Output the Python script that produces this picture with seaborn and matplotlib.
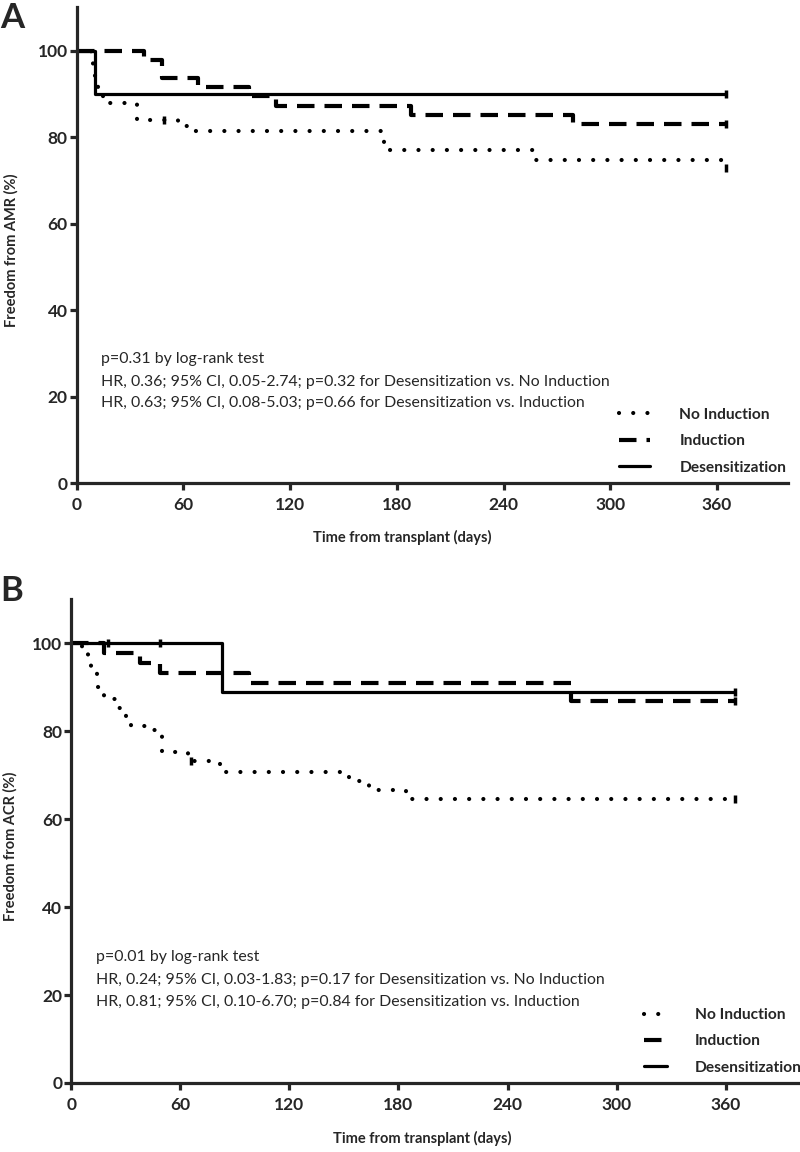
import matplotlib
matplotlib.use("Agg")
import matplotlib.pyplot as plt
import seaborn as sns
import pandas as pd

# Kaplan-Meier step data (days, % event free)
groups = ["No Induction", "Induction", "Desensitization"]

# Panel A - freedom from AMR
amr_no_t = [0, 8, 9, 10, 12, 15, 34, 57, 63, 173, 257, 364, 365]
amr_no_s = [100, 97.7, 95.3, 93.0, 90.7, 87.8, 84.0, 82.6, 81.3, 76.9, 74.7, 72.9, 72.9]
amr_ind_t = [0, 38, 48, 68, 97, 112, 188, 279, 365]
amr_ind_s = [100, 97.9, 93.6, 91.5, 89.4, 87.2, 85.1, 82.9, 82.9]
amr_des_t = [0, 10, 365]
amr_des_s = [100, 90.0, 90.0]

# Panel B - freedom from ACR
acr_no_t = [0, 6, 9, 11, 14, 18, 24, 30, 33, 43, 48, 50, 64, 82, 153, 164, 184, 365]
acr_no_s = [100, 97.8, 95.6, 93.3, 90.0, 87.2, 85.3, 83.1, 81.2, 80.2, 78.9, 75.3, 73.2, 70.7, 68.7, 66.5, 64.5, 64.5]
acr_ind_t = [0, 18, 38, 49, 98, 275, 365]
acr_ind_s = [100, 97.7, 95.5, 93.2, 91.0, 86.8, 86.8]
acr_des_t = [0, 83, 365]
acr_des_s = [100, 88.9, 88.9]

# censored observations (tick marks)
amr_cens_t = [[49, 365], [365], [365]]
amr_cens_s = [[84.0, 72.9], [82.9], [90.0]]
acr_cens_t = [[66, 365], [20, 365], [49, 365]]
acr_cens_s = [[73.2, 64.5], [100, 86.8], [100, 88.9]]

amr_text = ["p=0.31 by log-rank test",
            "HR, 0.36; 95% CI, 0.05-2.74; p=0.32 for Desensitization vs. No Induction",
            "HR, 0.63; 95% CI, 0.08-5.03; p=0.66 for Desensitization vs. Induction"]
acr_text = ["p=0.01 by log-rank test",
            "HR, 0.24; 95% CI, 0.03-1.83; p=0.17 for Desensitization vs. No Induction",
            "HR, 0.81; 95% CI, 0.10-6.70; p=0.84 for Desensitization vs. Induction"]

sns.set_style("ticks")
plt.rcParams['font.family'] = ['Lato', 'DejaVu Sans']

styles = {
    "No Induction": dict(lw=3.0, ls=(0, (0.01, 3.4)), dash_capstyle='round'),
    "Induction": dict(lw=3.0, ls=(0, (4.2, 2.4)), dash_capstyle='butt'),
    "Desensitization": dict(lw=2.3, ls='-'),
}

fig = plt.figure(figsize=(8, 11.52), dpi=100)
axA = fig.add_axes([0.096, 0.5807, 0.889, 0.413])
axB = fig.add_axes([0.089, 0.0599, 0.909, 0.420])


def draw_panel(ax, series, cens_t, cens_s, texts, ylabel, xl_x, yl_x, leg_xy, hlen, hpad):
    for name, (t, s) in zip(groups, series):
        df = pd.DataFrame({"day": t, "pct": s})
        st = styles[name]
        sns.lineplot(data=df, x="day", y="pct", ax=ax, color="black",
                     drawstyle="steps-post", estimator=None, label=name,
                     linewidth=st["lw"], linestyle=st["ls"],
                     dash_capstyle=st.get("dash_capstyle", "butt"))
    for ct, cs in zip(cens_t, cens_s):
        sns.scatterplot(x=ct, y=cs, ax=ax, marker="|", s=35, color="black",
                        linewidth=2.5, legend=False)
    ax.set_xlim(0, 400)
    ax.set_ylim(0, 110)
    ax.set_xticks(range(0, 361, 60))
    ax.set_yticks(range(0, 101, 20))
    for sp in ["top", "right"]:
        ax.spines[sp].set_visible(False)
    for sp in ["left", "bottom"]:
        ax.spines[sp].set_linewidth(2.3)
    ax.tick_params(axis="both", length=5, width=2.3, labelsize=12.5)
    ax.tick_params(axis="x", pad=5)
    ax.tick_params(axis="y", pad=1.5)
    for lab in ax.get_xticklabels() + ax.get_yticklabels():
        lab.set_fontweight("bold")
    ax.set_xlabel("Time from transplant (days)", fontsize=10.5, fontweight="bold")
    ax.set_ylabel(ylabel, fontsize=10.5, fontweight="bold")
    ax.xaxis.set_label_coords(xl_x, -0.099)
    ax.yaxis.set_label_coords(yl_x, 0.49)
    for txt, yy in zip(texts, [0.260, 0.213, 0.168]):
        ax.text(0.034, yy, txt, transform=ax.transAxes, fontsize=11.4,
                va="center", ha="left")
    ax.legend(loc="upper left", bbox_to_anchor=leg_xy, frameon=False,
              borderpad=0, borderaxespad=0, handlelength=hlen,
              handletextpad=hpad, labelspacing=0.8,
              prop={"weight": "bold", "size": 11.2})


draw_panel(axA, [(amr_no_t, amr_no_s), (amr_ind_t, amr_ind_s), (amr_des_t, amr_des_s)],
           amr_cens_t, amr_cens_s, amr_text, "Freedom from AMR (%)",
           0.457, -0.082, (0.762, 0.158), 2.0, 1.9)
draw_panel(axB, [(acr_no_t, acr_no_s), (acr_ind_t, acr_ind_s), (acr_des_t, acr_des_s)],
           acr_cens_t, acr_cens_s, acr_text, "Freedom from ACR (%)",
           0.483, -0.074, (0.787, 0.155), 1.5, 1.8)

fig.text(0.0, 1 - 18 / 1152, "A", fontsize=25, fontweight="bold", va="center", ha="left")
fig.text(0.0, 1 - 591 / 1152, "B", fontsize=25, fontweight="bold", va="center", ha="left")

fig.savefig("out.png", dpi=100, facecolor="white")
